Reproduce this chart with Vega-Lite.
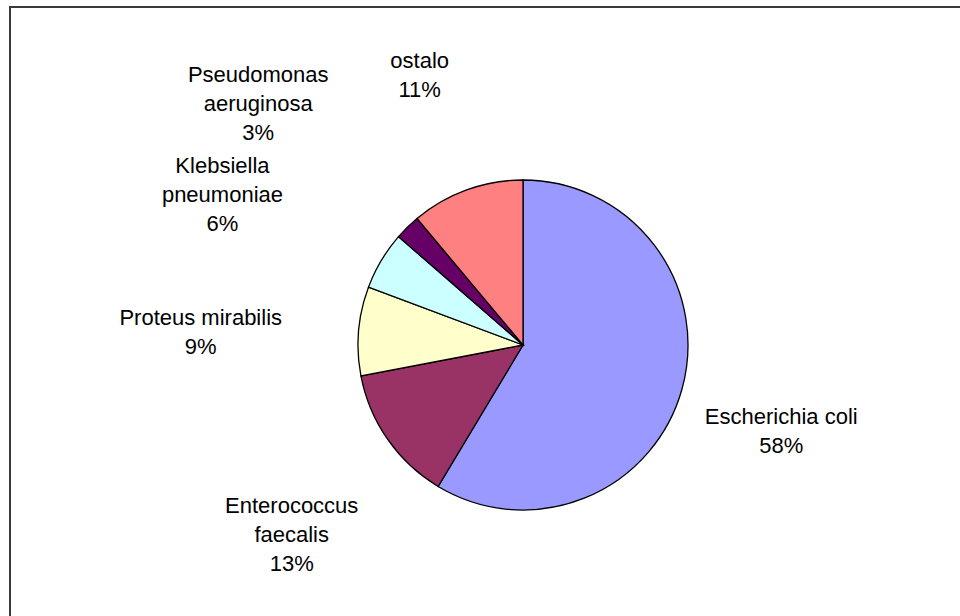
{
  "$schema": "https://vega.github.io/schema/vega-lite/v6.json",
  "width": 1026,
  "height": 676,
  "autosize": {"type": "none"},
  "padding": {"left": 10, "top": 7, "right": -76, "bottom": -67},
  "background": "white",
  "view": {"stroke": "#3a3a3a", "strokeWidth": 2, "fill": "white"},
  "config": {"font": "Liberation Sans"},
  "data": {"values": [
    {"name": "Escherichia coli", "value": 58.6, "label": "Escherichia coli\n58%"},
    {"name": "Enterococcus faecalis", "value": 13.4, "label": "Enterococcus\nfaecalis\n13%"},
    {"name": "Proteus mirabilis", "value": 8.7, "label": "Proteus mirabilis\n9%"},
    {"name": "Klebsiella pneumoniae", "value": 5.7, "label": "Klebsiella\npneumoniae\n6%"},
    {"name": "Pseudomonas aeruginosa", "value": 2.5, "label": "Pseudomonas\naeruginosa\n3%"},
    {"name": "ostalo", "value": 11.1, "label": "ostalo\n11%"}
  ]},
  "transform": [{"window": [{"op": "row_number", "as": "rank"}]}],
  "encoding": {
    "theta": {"field": "value", "type": "quantitative", "stack": true},
    "order": {"field": "rank", "type": "quantitative"}
  },
  "layer": [
    {
      "mark": {"type": "arc", "outerRadius": 165, "stroke": "black", "strokeWidth": 1.3},
      "encoding": {
        "color": {
          "field": "name",
          "type": "nominal",
          "scale": {
            "domain": ["Escherichia coli", "Enterococcus faecalis", "Proteus mirabilis", "Klebsiella pneumoniae", "Pseudomonas aeruginosa", "ostalo"],
            "range": ["#9999FF", "#993366", "#FFFFCC", "#CCFFFF", "#660066", "#FF8080"]
          },
          "legend": null
        }
      }
    },
    {
      "mark": {"type": "text", "fontSize": 22, "lineHeight": 29, "lineBreak": "\n", "align": "center", "baseline": "middle", "color": "black"},
      "encoding": {
        "text": {"field": "label", "type": "nominal"},
        "radius": {"field": "value", "type": "quantitative", "scale": {"type": "linear", "domain": [0, 15], "range": [400, 268], "clamp": true, "zero": false}}
      }
    }
  ]
}
